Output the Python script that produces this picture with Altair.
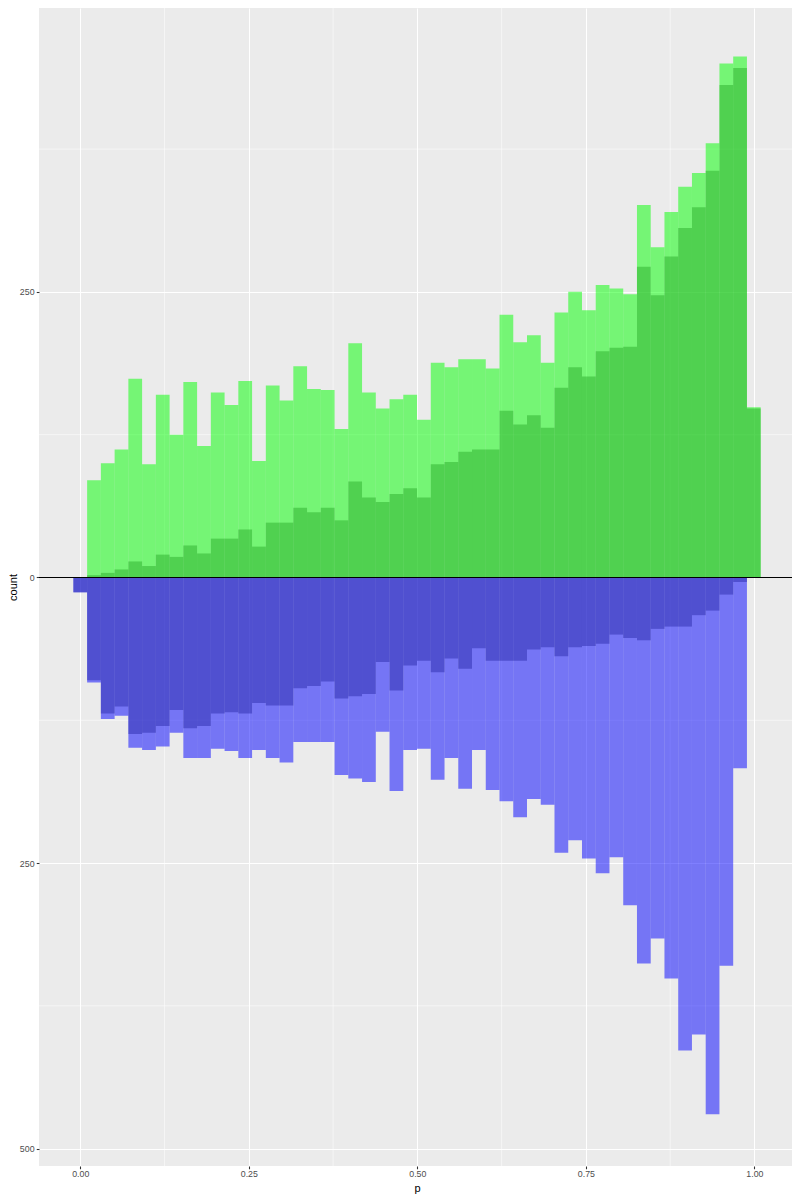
import altair as alt
import pandas as pd

# ---- data ----
bin_start = -0.0102
bin_width = 0.02039

# upper side (green), bins 0..49
green_all = [0, 85, 100, 112, 174, 99, 160, 125, 171, 115,
             162, 151, 172, 102, 168, 155, 185, 165, 164, 130,
             205, 162, 148, 156, 160, 138, 188, 184, 191, 191,
             183, 230, 206, 212, 188, 232, 250, 234, 256, 253,
             248, 326, 289, 320, 342, 354, 380, 450, 456, 149]
green_sub = [0, 2, 4, 7, 14, 10, 20, 18, 28, 21,
             34, 34, 42, 27, 48, 48, 61, 57, 61, 50,
             84, 70, 66, 73, 78, 70, 99, 101, 110, 112,
             112, 146, 134, 142, 131, 166, 184, 176, 198, 201,
             202, 272, 247, 281, 306, 324, 356, 431, 446, 148]

# lower side (blue), bins 0..49
blue_all = [13, 92, 124, 121, 149, 151, 148, 136, 158, 158,
            150, 152, 158, 151, 158, 162, 144, 144, 144, 173,
            176, 179, 135, 187, 151, 150, 177, 158, 185, 151,
            186, 196, 210, 194, 199, 241, 230, 246, 259, 245,
            287, 338, 316, 351, 414, 400, 470, 340, 167, 0]
blue_sub = [13, 90, 119, 113, 137, 136, 130, 116, 132, 130,
            119, 118, 119, 110, 112, 112, 97, 95, 91, 106,
            104, 102, 74, 99, 77, 73, 83, 71, 80, 62,
            73, 73, 73, 63, 61, 69, 61, 60, 58, 50,
            53, 55, 45, 43, 43, 33, 29, 15, 4, 0]

y_breaks = [-500, -250, 0, 250]
y_minor = [-375, -125, 125, 375]
x_breaks = [0.0, 0.25, 0.5, 0.75, 1.0]
x_minor = [0.125, 0.375, 0.625, 0.875]

W, H = 756, 1158


def bars(values, sign):
    rows = []
    for i, v in enumerate(values):
        if v > 0:
            x0 = bin_start + i * bin_width
            rows.append({"x0": x0, "x1": x0 + bin_width, "v": sign * v, "zero": 0})
    return pd.DataFrame(rows)


xs = alt.Scale(domain=[-0.0612, 1.0602], nice=False, zero=False)
ys = alt.Scale(domain=[-515.2, 498.5], nice=False, zero=False)

FONT = "Liberation Sans"

x_axis = alt.Axis(values=x_breaks, format=".2f", title="p", grid=True,
                  gridColor="white", gridWidth=1.07, domain=False,
                  tickColor="#333333", tickWidth=1.07, tickSize=2.75,
                  labelColor="#4D4D4D", labelFontSize=8.8, labelFont=FONT,
                  labelPadding=0.5, titleFont=FONT, titleFontSize=11,
                  titleColor="black", titleFontWeight="normal",
                  titleY=22, titleBaseline="middle")
y_axis = alt.Axis(values=y_breaks, labelExpr="format(abs(datum.value), 'd')",
                  title="count", grid=True, gridColor="white", gridWidth=1.07,
                  domain=False, tickColor="#333333", tickWidth=1.07,
                  tickSize=2.75, labelColor="#4D4D4D", labelFontSize=8.8,
                  labelFont=FONT, labelPadding=2.2, titleFont=FONT,
                  titleFontSize=11, titleColor="black",
                  titleFontWeight="normal", titleX=-26, titleY=H / 2,
                  titleAngle=270, titleAlign="center", titleBaseline="middle")

minor_x = alt.Chart(pd.DataFrame({"x": x_minor})).mark_rule(
    color="white", strokeWidth=0.53).encode(
    x=alt.X("x:Q", scale=xs, axis=x_axis))
minor_y = alt.Chart(pd.DataFrame({"y": y_minor})).mark_rule(
    color="white", strokeWidth=0.53).encode(
    y=alt.Y("y:Q", scale=ys, axis=y_axis))


def rect_layer(df, color):
    return alt.Chart(df).mark_rect(color=color, opacity=0.5).encode(
        x=alt.X("x0:Q", scale=xs, axis=x_axis),
        x2="x1:Q",
        y=alt.Y("v:Q", scale=ys, axis=y_axis),
        y2="zero:Q",
    )


g1 = rect_layer(bars(green_all, 1), "#00FF00")
g2 = rect_layer(bars(green_sub, 1), "#2BAD2B")
b1 = rect_layer(bars(blue_all, -1), "#0000FF")
b2 = rect_layer(bars(blue_sub, -1), "#2B2BAB")

hline = alt.Chart(pd.DataFrame({"y": [0]})).mark_rule(
    color="black", strokeWidth=1.07).encode(
    y=alt.Y("y:Q", scale=ys, axis=y_axis))

chart = alt.layer(minor_x, minor_y, g1, g2, b1, b2, hline).properties(
    width=W, height=H,
    autosize=alt.AutoSizeParams(type="none"),
    padding={"left": 31, "top": 0, "right": -3, "bottom": 32},
).configure_view(fill="#EBEBEB", stroke=None)

chart.save("out.html", embed_options={"renderer": "svg", "actions": False})
